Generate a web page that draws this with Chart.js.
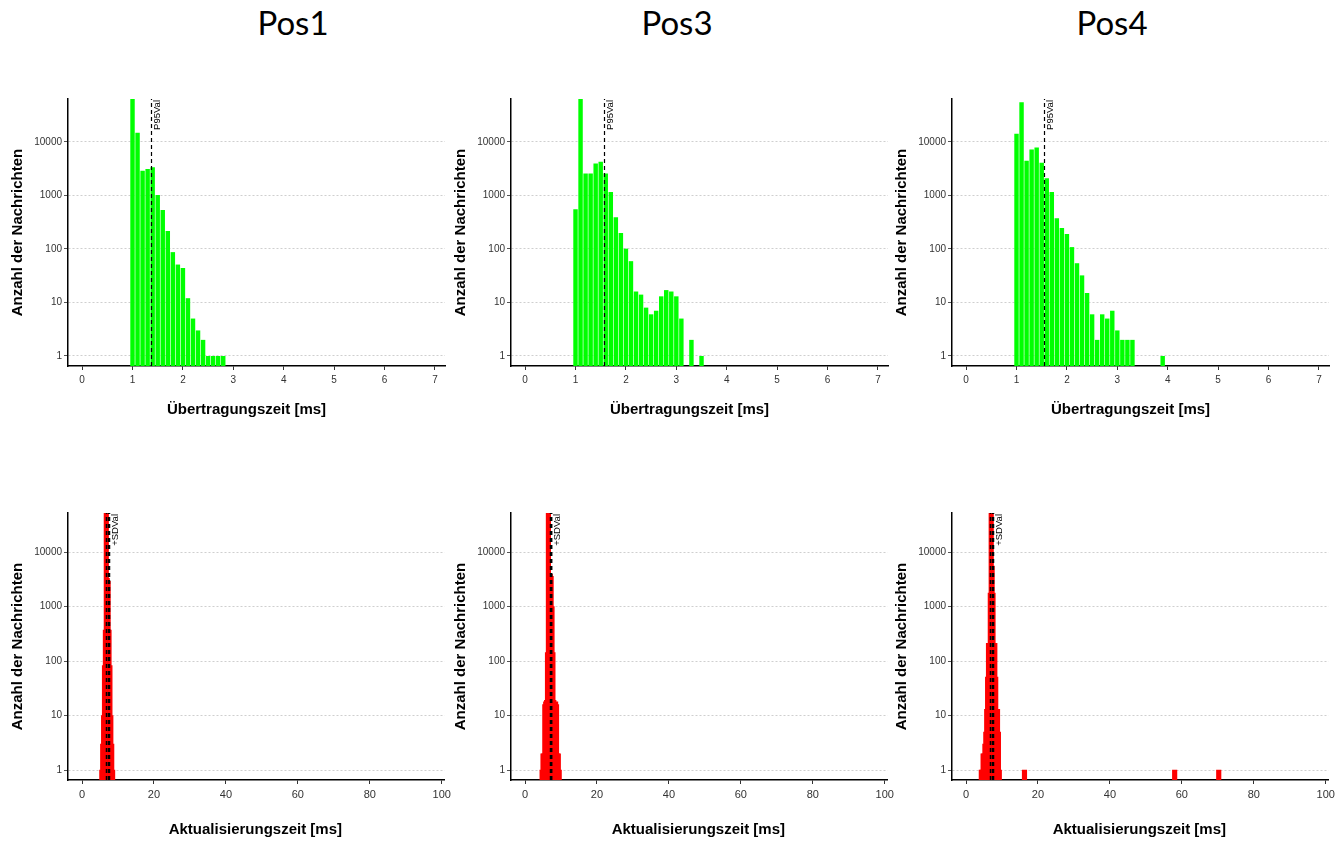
<!DOCTYPE html>
<html>
<head>
<meta charset="utf-8">
<script src="https://cdn.jsdelivr.net/npm/chart.js@4.4.0/dist/chart.umd.min.js"></script>
<style>
  body { margin: 0; background: #fff; width: 1341px; height: 841px; position: relative; overflow: hidden; }
  .title { position: absolute; top: 6px; font-family: Lato, "Open Sans", sans-serif; font-size: 33px; line-height: 1; color: #000; transform: translateX(-50%); }
  canvas { position: absolute; }
</style>
</head>
<body>
<div class="title" style="left:293px">Pos1</div>
<div class="title" style="left:677px">Pos3</div>
<div class="title" style="left:1112px">Pos4</div>

<canvas id="t1" width="455" height="340" style="left:0px;top:90px"></canvas>
<canvas id="t3" width="455" height="340" style="left:443px;top:90px"></canvas>
<canvas id="t4" width="455" height="340" style="left:884px;top:90px"></canvas>
<canvas id="b1" width="455" height="337" style="left:0px;top:504px"></canvas>
<canvas id="b3" width="455" height="337" style="left:443px;top:504px"></canvas>
<canvas id="b4" width="455" height="337" style="left:884px;top:504px"></canvas>

<script>
// Übertragungszeit histogram (bin centres in ms, counts per position)
const transBins = [1.0, 1.1, 1.2, 1.3, 1.4, 1.5, 1.6, 1.7, 1.8, 1.9, 2.0, 2.1, 2.2, 2.3, 2.4, 2.5, 2.6, 2.7, 2.8, 2.9, 3.0, 3.1, 3.2, 3.3, 3.4, 3.5, 3.6, 3.7, 3.8, 3.9];
const transPos1 = [80000, 14750, 2870, 3120, 3360, 1020, 530, 216, 87, 51, 44, 12, 5, 3, 2, 1, 1, 1, 1, null, null, null, null, null, null, null, null, null, null, null];
const transPos3 = [550, 80000, 2560, 2560, 3930, 4230, 2560, 1160, 390, 198, 101, 59, 16, 14, 8, 6, 7, 13, 17, 16, 13, 5, null, 2, null, 1, null, null, null, null];
const transPos4 = [14100, 54500, 4410, 7190, 7830, 4050, 2090, 1160, 372, 245, 190, 108, 54, 32, 15, 6, 2, 6, 5, 7, 3, 2, 2, 2, null, null, null, null, null, 1];
const p95Val = [1.36, 1.56, 1.55];

// Aktualisierungszeit histogram
const updBins = [4.25, 4.5, 4.75, 5.0, 5.25, 5.5, 5.75, 6.0, 6.25, 6.5, 6.75, 7.0, 7.25, 7.5, 7.75, 8.0, 8.25, 8.5, 8.75, 9.0, 9.25, 9.5, 9.75, 16.25, 58.0, 70.25];
const updPos1 = [null, null, null, null, null, 1, 3, 10, 83, 370, 60000, 3300, 2900, 370, 83, 10, 3, 1, null, null, null, null, null, null, null, null];
const updPos3 = [null, null, 1, 2, 2, 16, 18, 19, 144, 60000, 3700, 3900, 3600, 1000, 144, 19, 17, 18, 16, 2, 2, 1, null, null, null, null];
const updPos4 = [1, 1, 2, 2, 3, 5, 13, 51, 212, 212, 1770, 60000, 5500, 1770, 212, 212, 51, 13, 13, 5, 1, null, null, 1, 1, 1];
const updMean = [7.2, 7.1, 7.1];
const updSD = [0.4, 0.15, 0.47];

const countTicks = [1, 10, 100, 1000, 10000];
const transTicks = [0, 1, 2, 3, 4, 5, 6, 7];
const updTicks = [0, 20, 40, 60, 80, 100];

const FONT = '"Liberation Sans", Arial, sans-serif';

function histChart(id, bins, counts, cfg) {
  const marks = {
    id: 'marks',
    afterDatasetsDraw(chart) {
      const { ctx, chartArea: a, scales: { x } } = chart;
      ctx.save();
      ctx.strokeStyle = '#000';
      ctx.lineWidth = cfg.lineWidth;
      ctx.setLineDash([4, 3]);
      cfg.lines.forEach(v => {
        const px = Math.round(x.getPixelForValue(v)) + 0.5;
        ctx.beginPath();
        ctx.moveTo(px, a.bottom);
        ctx.lineTo(px, a.top);
        ctx.stroke();
      });
      ctx.setLineDash([]);
      const lx = x.getPixelForValue(Math.max(...cfg.lines)) + 1.5;
      ctx.translate(lx, a.top + 1);
      ctx.rotate(-Math.PI / 2);
      ctx.font = '9.5px ' + FONT;
      ctx.fillStyle = '#000';
      ctx.textAlign = 'right';
      ctx.textBaseline = 'top';
      ctx.fillText(cfg.label, 0, 0);
      ctx.restore();
    },
    afterDraw(chart) {
      // x axis title, centred like the original (slightly left of the plot centre)
      const { ctx, chartArea: a } = chart;
      ctx.save();
      ctx.font = 'bold 15px ' + FONT;
      ctx.fillStyle = '#000';
      ctx.textAlign = 'center';
      ctx.textBaseline = 'middle';
      ctx.fillText(cfg.xTitle, (a.left + a.right) / 2 + cfg.titleShift, a.bottom + cfg.titleDy);
      ctx.restore();
    }
  };

  const ds = {
    data: bins.map((b, i) => ({ x: b, y: counts[i] })),
    backgroundColor: cfg.color,
    borderWidth: 0,
    categoryPercentage: 1,
    barPercentage: cfg.barPct || 1
  };
  if (cfg.thickness) ds.barThickness = cfg.thickness;

  new Chart(document.getElementById(id), {
    type: 'bar',
    data: { datasets: [ds] },
    plugins: [marks],
    options: {
      responsive: false,
      animation: false,
      events: [],
      layout: { padding: { top: 9, right: 10, left: 0, bottom: 0 } },
      plugins: { legend: { display: false }, tooltip: { enabled: false } },
      scales: {
        x: {
          type: 'linear',
          offset: false,
          min: cfg.xMin,
          max: cfg.xMax,
          afterBuildTicks: s => { s.ticks = cfg.xTicks.map(v => ({ value: v })); },
          afterFit: s => { s.height = cfg.xHeight; },
          grid: { offset: false, drawOnChartArea: false, drawTicks: true, tickLength: 4, tickColor: '#333', tickWidth: 1 },
          border: { display: true, color: '#000', width: 1.5 },
          ticks: { font: { family: FONT, size: cfg.xFont }, color: '#333', padding: 4, maxRotation: 0, autoSkip: false }
        },
        y: {
          type: 'logarithmic',
          min: cfg.yMin,
          max: cfg.yMax,
          afterBuildTicks: s => { s.ticks = countTicks.map(v => ({ value: v })); },
          afterFit: s => { s.width = 68; },
          grid: { color: '#cfcfcf', lineWidth: 1, drawTicks: true, tickLength: 4, tickColor: '#555', tickBorderDash: [] },
          border: { display: true, color: '#000', width: 1.5, dash: [2, 2] },
          ticks: { font: { family: FONT, size: 10 }, color: '#333', padding: 2, callback: v => String(v) },
          title: { display: true, text: 'Anzahl der Nachrichten', color: '#000', font: { family: FONT, size: 15, weight: 'bold' }, padding: { top: 9, bottom: 0 } }
        }
      }
    }
  });
}

const topCfg = (i) => ({
  color: '#00ff00', barPct: 0.88, lines: [p95Val[i]], label: 'P95Val', lineWidth: 1.2,
  xMin: -0.28, xMax: 7.2, xTicks: transTicks, xHeight: 64, xFont: 10,
  xTitle: 'Übertragungszeit [ms]', titleShift: -10, titleDy: 44,
  yMin: 0.65, yMax: 63000
});
const botCfg = (i) => ({
  color: '#ff0000', thickness: 4.5,
  lines: [updMean[i] - updSD[i], updMean[i], updMean[i] + updSD[i]], label: '+SDVal', lineWidth: 1.5,
  xMin: -3.9, xMax: 100.8, xTicks: updTicks, xHeight: 61, xFont: 11,
  xTitle: 'Aktualisierungszeit [ms]', titleShift: -1, titleDy: 50,
  yMin: 0.66, yMax: 52000
});

histChart('t1', transBins, transPos1, topCfg(0));
histChart('t3', transBins, transPos3, topCfg(1));
histChart('t4', transBins, transPos4, topCfg(2));
histChart('b1', updBins, updPos1, botCfg(0));
histChart('b3', updBins, updPos3, botCfg(1));
histChart('b4', updBins, updPos4, botCfg(2));
</script>
</body>
</html>
